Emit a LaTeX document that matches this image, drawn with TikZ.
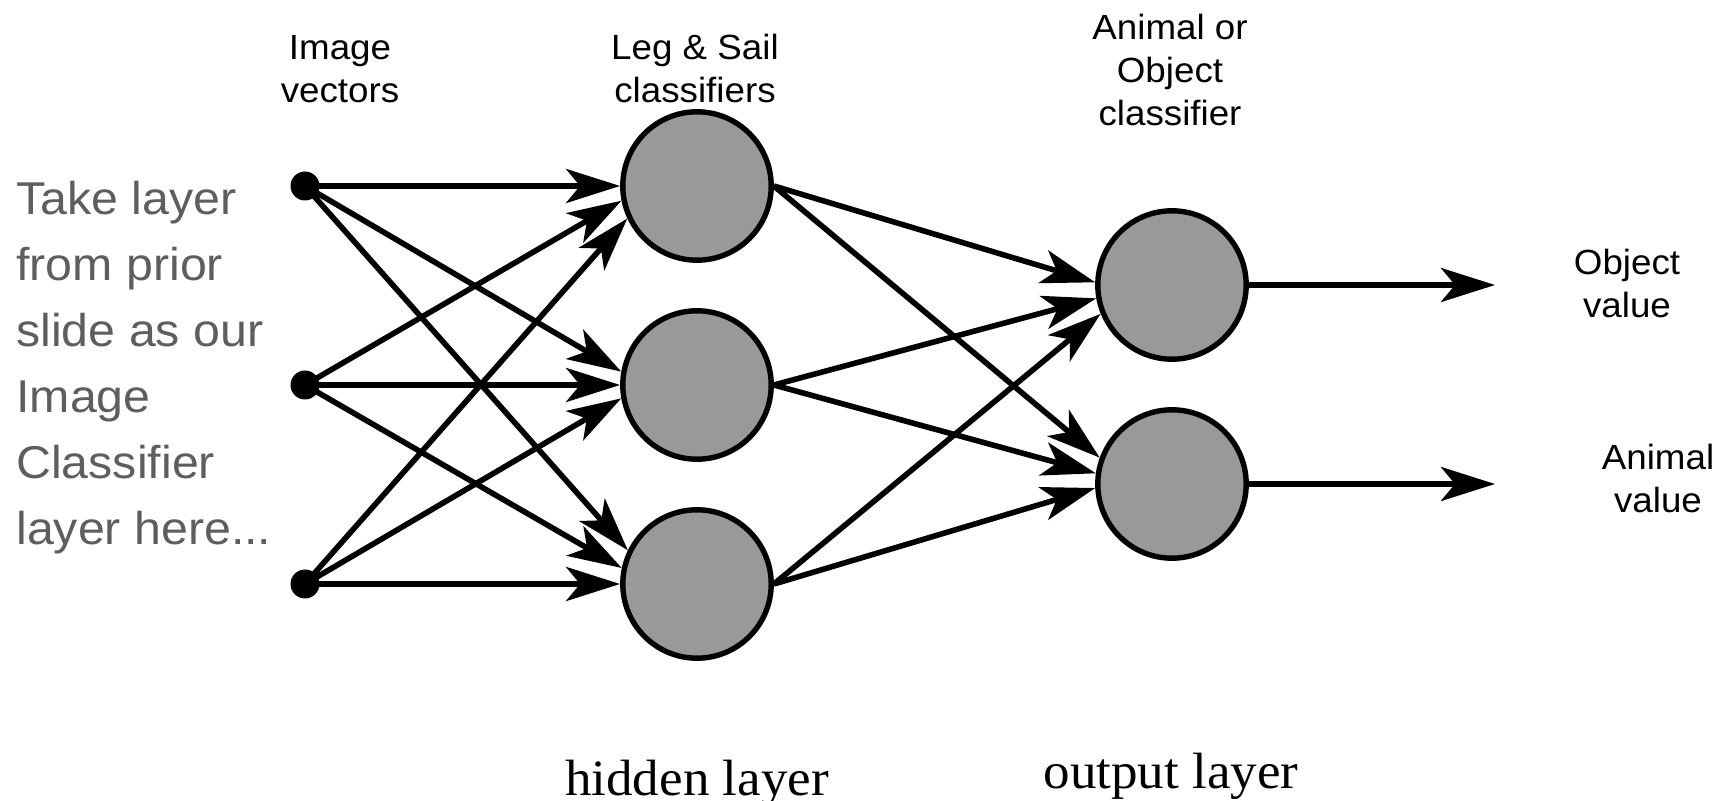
\documentclass[tikz,border=0pt]{standalone}
\usepackage{fontspec}
\setmainfont{Liberation Serif}
\newfontfamily\labelfont[FakeStretch=1.05]{Liberation Sans}
\newfontfamily\notefont[FakeStretch=1.05]{Liberation Sans}
\newfontfamily\layerfont[FakeStretch=1.04]{Liberation Serif}
\usetikzlibrary{arrows.meta}
\definecolor{notegray}{HTML}{5E5E5E}
\definecolor{unitfill}{HTML}{999999}

\begin{document}
\begin{tikzpicture}[x=0.5pt,y=-0.5pt,
  unit/.style={circle,draw=black,fill=unitfill,line width=2.7pt,
               minimum size=74.2pt,inner sep=0pt},
  inputdot/.style={circle,fill=black,minimum size=14.5pt,inner sep=0pt},
  link/.style={line width=2.8pt,-{Stealth[length=27pt,width=17pt,inset=7pt]}},
  caption/.style={font=\labelfont\fontsize{17.5}{21.5}\selectfont,
                  align=center,inner sep=0pt,anchor=base},
  note/.style={font=\notefont\fontsize{23}{33}\selectfont,text=notegray,
               align=left,inner sep=0pt,anchor=base west},
  layername/.style={font=\layerfont\fontsize{25.5}{30}\selectfont,
                    inner sep=0pt,anchor=base}]
\useasboundingbox (0,0) rectangle (1719,801);

% input vectors
\node[inputdot] (i1) at (305,186) {};
\node[inputdot] (i2) at (305,385) {};
\node[inputdot] (i3) at (305,584) {};

% hidden layer
\node[unit] (h1) at (697,186) {};
\node[unit] (h2) at (697,385) {};
\node[unit] (h3) at (697,584) {};

% output layer
\node[unit] (o1) at (1172,285) {};
\node[unit] (o2) at (1172,484) {};

% free ends of the output arrows
\coordinate (t1) at (1495,285);
\coordinate (t2) at (1495,484);

% input -> hidden
\draw[link] (i1.center) -- (h1.180);
\draw[link] (i2.center) -- (h1.191.5);
\draw[link] (i3.center) -- (h1.205);
\draw[link] (i1.center) -- (h2.170);
\draw[link] (i2.center) -- (h2.180);
\draw[link] (i3.center) -- (h2.190);
\draw[link] (i1.center) -- (h3.154);
\draw[link] (i2.center) -- (h3.168);
\draw[link] (i3.center) -- (h3.180);

% hidden -> output
\draw[link] (h1.east) -- (o1.178.5);
\draw[link] (h2.east) -- (o1.190);
\draw[link] (h3.east) -- (o1.202);
\draw[link] (h1.east) -- (o2.160);
\draw[link] (h2.east) -- (o2.172);
\draw[link] (h3.east) -- (o2.183);

% outputs
\draw[link] (o1.east) -- (t1);
\draw[link] (o2.east) -- (t2);

% labels (anchored at the baseline of their last line)
\node[caption] (capin) at (340,103) {Image\\vectors};
\node[caption] (caphid) at (695,103) {Leg \& Sail\\classifiers};
\node[caption] (capout) at (1170,126) {Animal or\\Object\\classifier};
\node[caption] (capobj) at (1627,318) {Object\\value};
\node[caption] (capani) at (1658,513) {Animal\\value};

\node[note] (remark) at (16,545)
  {Take layer\\from prior\\slide as our\\Image\\Classifier\\layer here...};

\node[layername] (hidname) at (697,795) {hidden layer};
\node[layername] (outname) at (1171,788) {output layer};
\end{tikzpicture}
\end{document}
